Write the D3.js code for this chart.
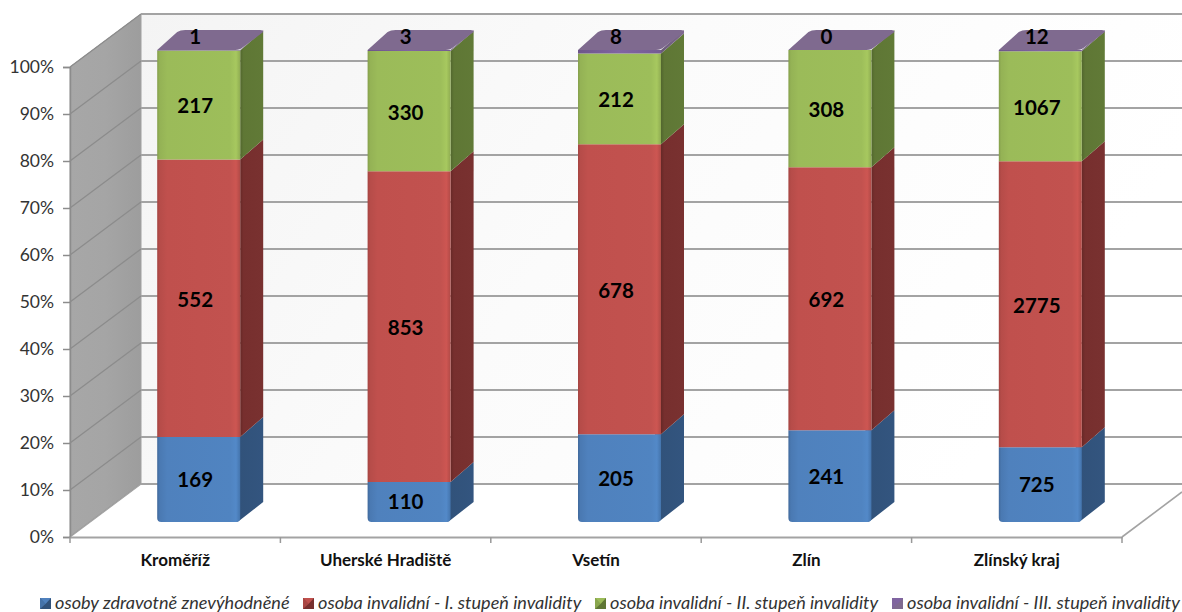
<!DOCTYPE html>
<html><head><meta charset="utf-8">
<script src="https://cdn.jsdelivr.net/npm/d3@7"></script>
<style>
html,body{margin:0;padding:0;background:#fff;overflow:hidden}
svg{display:block}
text{font-family:Lato,"Open Sans",sans-serif}
</style></head><body>
<svg id="c" width="1182" height="612"></svg>
<script>
const categories = ["Kroměříž","Uherské Hradiště","Vsetín","Zlín","Zlínský kraj"];
const seriesNames = ["osoby zdravotně znevýhodněné","osoba invalidní - I. stupeň invalidity","osoba invalidní - II. stupeň invalidity","osoba invalidní - III. stupeň invalidity"];
const disabled = [169,110,205,241,725];
const invalidI = [552,853,678,692,2775];
const invalidII = [217,330,212,308,1067];
const invalidIII = [1,3,8,0,12];
const tickLabels = ["0%","10%","20%","30%","40%","50%","60%","70%","80%","90%","100%"];
const frontColors = ["#4f81bd","#c0504d","#9bbb59","#8064a2"];
const sideColors = ["#31527a","#772f2e","#5f7735","#7f6a8f"];

const svg = d3.select("#c");
const defs = svg.append("defs");
function grad(id, stops, x2=1, y2=0){
  const g = defs.append("linearGradient").attr("id",id).attr("x1",0).attr("y1",0).attr("x2",x2).attr("y2",y2);
  stops.forEach(s=>g.append("stop").attr("offset",s[0]).attr("stop-color",s[1]));
}
grad("wall",[[0,"#a7a7a7"],[0.5,"#a5a5a5"],[1,"#9d9d9d"]]);
grad("back",[[0,"#f4f4f4"],[0.5,"#fbfbfb"],[1,"#ffffff"]],1,0.3);
grad("f0",[[0,"#41699b"],[0.03,"#4a79b2"],[0.12,"#4f81bd"],[0.88,"#5084c1"],[0.95,"#5389c8"],[1,"#4474ac"]]);
grad("f1",[[0,"#a44441"],[0.03,"#b64c49"],[0.12,"#c0504d"],[0.88,"#c2524f"],[0.95,"#cd5652"],[1,"#b04a47"]]);
grad("f2",[[0,"#859f4c"],[0.03,"#94b255"],[0.12,"#9bbb59"],[0.88,"#9dbe5a"],[0.95,"#a7c85f"],[1,"#8fac52"]]);
grad("f3",[[0,"#6d558a"],[0.5,"#8064a2"],[1,"#745b93"]]);
grad("s0",[[0,"#2a466a"],[0.15,"#31527a"],[1,"#33557f"]]);
grad("s1",[[0,"#662927"],[0.15,"#772f2e"],[1,"#793130"]]);
grad("s2",[[0,"#52662e"],[0.15,"#5f7735"],[1,"#617a37"]]);
grad("s3",[[0,"#6a5a78"],[1,"#7f6a8f"]]);

// projection offsets
const wallDx = 71, wallDy = -53;
const barDx = 23, barDy = -20;

const x = d3.scaleBand().domain(categories).range([70,1122]);
const y = d3.scaleLinear().domain([0,1]).range([537,67]);
const barY = d3.scaleLinear().domain([0,1]).range([522,50]);
const barW = 83;
const barX = c => x(c)+x.bandwidth()/2-18;

// Walls
const wallTop = y(1)+wallDy;
svg.append("path").attr("fill","url(#back)")
  .attr("d",`M${70+wallDx},${wallTop}H1182V${y(0)+wallDy}H${70+wallDx}Z`);
svg.append("path").attr("fill","url(#wall)").attr("stroke","#a0a0a0").attr("stroke-width",1)
  .attr("d",`M70,${y(1)}L${70+wallDx},${wallTop}L${70+wallDx},${y(0)+wallDy}L70,${y(0)}Z`);

// Grid lines: across the side wall, then along the back wall
const ticks = d3.range(0,11).map(i=>i/10);
const grid = svg.append("g").attr("fill","none").attr("stroke","#a3a3a3");
ticks.forEach(t=>{
  const yf=y(t), yb=y(t)+wallDy;
  grid.append("line").attr("x1",70).attr("y1",yf).attr("x2",70+wallDx).attr("y2",yb).attr("stroke-width",1.3).attr("stroke","#8c8c8c");
  grid.append("line").attr("x1",70+wallDx).attr("y1",yb).attr("x2",1182).attr("y2",yb).attr("stroke-width",2);
});
// Back top edge
grid.append("line").attr("x1",70+wallDx).attr("y1",wallTop).attr("x2",1182).attr("y2",wallTop).attr("stroke-width",2);
// floor
svg.append("path").attr("fill","#fff").attr("stroke","none")
  .attr("d",`M70,${y(0)}L${70+wallDx},${y(0)+wallDy}H1182V${y(0)+wallDy+8}L1122,${y(0)}Z`);
svg.append("line").attr("x1",70+wallDx).attr("x2",1182).attr("y1",y(0)+wallDy).attr("y2",y(0)+wallDy).attr("stroke","#a3a3a3").attr("stroke-width",2);
svg.append("line").attr("x1",1122).attr("y1",y(0)).attr("x2",1182).attr("y2",y(0)-45).attr("stroke","#a3a3a3").attr("stroke-width",1.6);
svg.append("line").attr("x1",70).attr("y1",y(0)).attr("x2",70+wallDx).attr("y2",y(0)+wallDy).attr("stroke","#a3a3a3").attr("stroke-width",1.3);

// Axis lines and ticks, via d3 axes
const yAxis = d3.axisLeft(y).tickValues(ticks).tickFormat((d,i)=>tickLabels[i]).tickSize(7).tickPadding(9);
const gy = svg.append("g").attr("transform","translate(70,0)").call(yAxis);
gy.selectAll("path,line").attr("stroke","#8c8c8c").attr("stroke-width",1.5);
gy.selectAll("text").attr("font-size",17.5).attr("fill","#333").style("font-family","Lato");
const xAxis = d3.axisBottom(x).tickSize(0).tickPadding(17);
const gx = svg.append("g").attr("transform",`translate(0,${y(0)})`).call(xAxis);
gx.select("path").attr("stroke","#a3a3a3").attr("stroke-width",2);
gx.selectAll("text").attr("font-size",17).attr("font-weight",700).attr("fill","#111").style("font-family","Lato");
d3.range(0,6).forEach(i=>{
  const px=70+i*x.bandwidth();
  svg.append("line").attr("x1",px).attr("x2",px).attr("y1",y(0)).attr("y2",y(0)+6).attr("stroke","#999").attr("stroke-width",1.5);
});

// Stacks
const rows = categories.map((c,i)=>({c,a:disabled[i],b:invalidI[i],d:invalidII[i],e:invalidIII[i]}));
const stack = d3.stack().keys(["a","b","d","e"]).offset(d3.stackOffsetExpand);
const layers = stack(rows);
const rawValues = [disabled,invalidI,invalidII,invalidIII];

const bars = svg.append("g");
layers.forEach((layer,si)=>{
  layer.forEach((seg,ci)=>{
    const c = categories[ci], bx = barX(c), y0 = barY(seg[0]), y1 = barY(seg[1]);
    if (y0-y1 <= 0) return;
    bars.append("path").attr("fill",`url(#s${si})`)
      .attr("d", si===0
        ? `M${bx+barW-6},${y0}Q${bx+barW-2},${y0} ${bx+barW},${y0-2}L${bx+barW+barDx},${y0+barDy}V${y1+barDy}L${bx+barW},${y1}H${bx+barW-6}Z`
        : `M${bx+barW},${y0}L${bx+barW+barDx},${y0+barDy}V${y1+barDy}L${bx+barW},${y1}Z`);
    const r = si===0 ? 4 : 0;
    bars.append("path").attr("fill",`url(#f${si})`)
      .attr("d",`M${bx},${y1}H${bx+barW}V${y0-r}Q${bx+barW},${y0} ${bx+barW-r},${y0}H${bx+r}Q${bx},${y0} ${bx},${y0-r}Z`);
  });
});
// top face
categories.forEach(c=>{
  const bx=barX(c), t=barY(1), r=5;
  bars.append("path").attr("fill","#7f6a8f")
    .attr("d",`M${bx},${t}L${bx+barDx-3},${t+barDy+2}Q${bx+barDx},${t+barDy} ${bx+barDx+r},${t+barDy}H${bx+barW+barDx-3}Q${bx+barW+barDx},${t+barDy} ${bx+barW+barDx},${t+barDy+2}L${bx+barW+3},${t-3}Q${bx+barW},${t} ${bx+barW-r},${t}Z`);
});

// Value labels
const lbl = svg.append("g").attr("font-size",20.5).attr("font-weight",700).attr("fill","#000").attr("text-anchor","middle");
layers.forEach((layer,si)=>{
  layer.forEach((seg,ci)=>{
    const c=categories[ci], cx=barX(c)+barW/2-3.5;
    const mid=(barY(seg[0])+barY(seg[1]))/2;
    const cy = si===3 ? barY(1)+barDy/2-3 : mid+(si===0?0:1);
    lbl.append("text").attr("x",cx).attr("y",cy).attr("dy","0.36em").text(rawValues[si][ci]);
  });
});

// Legend
const legendX = [40,303,595,892];
const lg = svg.append("g");
seriesNames.forEach((n,i)=>{
  const lx=legendX[i];
  lg.append("rect").attr("x",lx).attr("y",598).attr("width",11).attr("height",11).attr("fill",sideColors[i]);
  lg.append("path").attr("d",`M${lx},598H${lx+11}L${lx+5.5},604Z`).attr("fill",frontColors[i]);
  lg.append("path").attr("d",`M${lx},598V609L${lx+5.5},604Z`).attr("fill",frontColors[i]).attr("opacity",0.7);
  lg.append("text").attr("x",lx+15).attr("y",608.5).attr("font-size",18.1).attr("font-style","italic").attr("fill","#333").text(n);
});
</script>
</body></html>
